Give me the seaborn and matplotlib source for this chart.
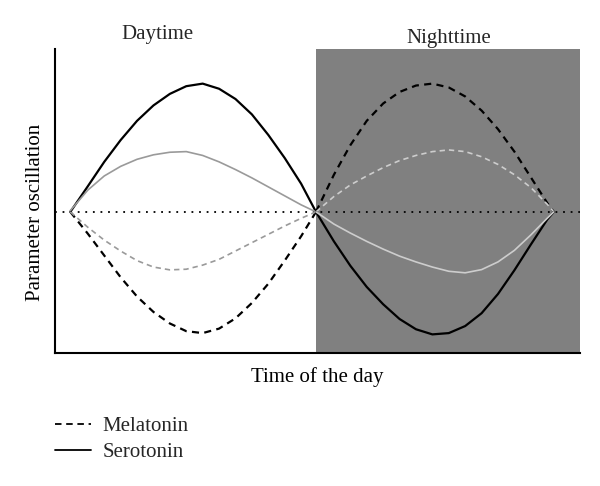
import numpy as np
import pandas as pd
import matplotlib
matplotlib.use("Agg")
import matplotlib.pyplot as plt
from matplotlib.lines import Line2D
import seaborn as sns

# time of day (hours) sampled along each half of the cycle
day_hours = [0.7, 1.5, 2.25, 3, 3.75, 4.5, 5.25, 6, 6.75, 7.5, 8.25, 9, 9.75, 10.5, 11.25, 11.93]
night_hours = [11.93, 12.75, 13.5, 14.25, 15, 15.75, 16.5, 17.25, 18, 18.75, 19.5, 20.25, 21, 21.75, 22.5, 22.8]

# relative oscillation around the baseline
serotonin_day = [0, 0.2, 0.39, 0.56, 0.71, 0.83, 0.92, 0.98, 1.0, 0.96, 0.88, 0.76, 0.60, 0.42, 0.22, 0]
serotonin_day_low = [0.01, 0.17, 0.28, 0.355, 0.41, 0.445, 0.465, 0.47, 0.44, 0.39, 0.33, 0.265, 0.195, 0.125, 0.055, 0]
melatonin_day = [0, -0.17, -0.34, -0.51, -0.66, -0.78, -0.87, -0.93, -0.945, -0.91, -0.83, -0.71, -0.56, -0.38, -0.19, 0]
melatonin_day_low = [0, -0.12, -0.22, -0.305, -0.38, -0.43, -0.452, -0.447, -0.415, -0.37, -0.305, -0.24, -0.175, -0.11, -0.05, 0]

melatonin_night = [0, 0.29, 0.52, 0.71, 0.845, 0.935, 0.985, 1.0, 0.97, 0.90, 0.79, 0.645, 0.47, 0.27, 0.07, 0]
melatonin_night_low = [0, 0.12, 0.21, 0.28, 0.345, 0.40, 0.44, 0.47, 0.483, 0.47, 0.43, 0.37, 0.29, 0.19, 0.06, 0]
serotonin_night = [0, -0.23, -0.42, -0.585, -0.72, -0.835, -0.915, -0.955, -0.945, -0.89, -0.79, -0.64, -0.455, -0.255, -0.06, 0]
serotonin_night_low = [0, -0.095, -0.165, -0.23, -0.29, -0.345, -0.39, -0.43, -0.463, -0.475, -0.45, -0.39, -0.30, -0.18, -0.05, 0]

sns.set_theme(style="white")
plt.rcParams['font.family'] = ['Liberation Serif', 'DejaVu Serif']

fig = plt.figure(figsize=(6, 4.86), dpi=100)
ax = fig.add_axes([0.0917, 0.2737, 0.875, 0.6255])

night_grey = "#808080"
ax.axvspan(11.93, 24, color=night_grey, lw=0, zorder=0)
ax.axhline(0, color="black", linestyle=(0, (1, 3.2)), linewidth=1.3, zorder=1)

dash = (0, (3.2, 2.4))
curves = [
    (day_hours, serotonin_day, "black", "-", 1.6),
    (day_hours, serotonin_day_low, "#9a9a9a", "-", 1.2),
    (day_hours, melatonin_day, "black", dash, 1.6),
    (day_hours, melatonin_day_low, "#9a9a9a", dash, 1.2),
    (night_hours, melatonin_night, "black", dash, 1.6),
    (night_hours, melatonin_night_low, "#cdcdcd", dash, 1.2),
    (night_hours, serotonin_night, "black", "-", 1.6),
    (night_hours, serotonin_night_low, "#cdcdcd", "-", 1.2),
]
for x, y, c, ls, lw in curves:
    sns.lineplot(x=x, y=y, color=c, linestyle=ls, linewidth=lw, ax=ax,
                 sort=False, estimator=None, legend=False, zorder=3)

ax.set_xlim(0, 24)
ax.set_ylim(-1.10, 1.27)
ax.set_xticks([])
ax.set_yticks([])
for side in ["top", "right"]:
    ax.spines[side].set_visible(False)
for side in ["left", "bottom"]:
    ax.spines[side].set_color("black")
    ax.spines[side].set_linewidth(1.5)

ax.set_xlabel("Time of the day", fontsize=15, labelpad=10, color="black")
ax.set_ylabel("Parameter oscillation", fontsize=15, color="black")
ax.yaxis.set_label_coords(-0.019, 0.464)

fig.text(157 / 600, 1 - 35 / 486, "Daytime", fontsize=15, ha="center", va="center")
fig.text(449 / 600, 1 - 39 / 486, "Nighttime", fontsize=15, ha="center", va="center")

handles = [Line2D([], [], color="black", linestyle=(0, (3.6, 2.6)), linewidth=1.3),
           Line2D([], [], color="black", linestyle="-", linewidth=1.3)]
fig.legend(handles, ["Melatonin", "Serotonin"], loc="upper left",
           bbox_to_anchor=(0.078, 0.16), frameon=False, fontsize=15,
           handlelength=1.7, handletextpad=0.58, labelspacing=0.3,
           borderaxespad=0)

fig.savefig("out.png", dpi=100)
